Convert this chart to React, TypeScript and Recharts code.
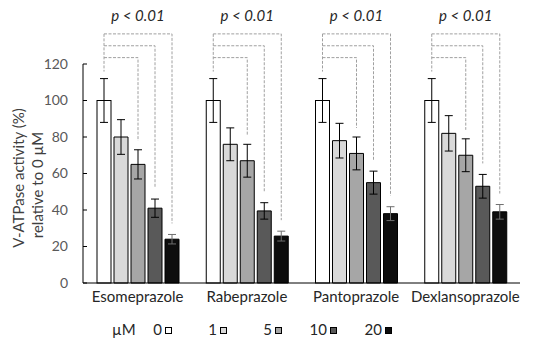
import React from 'react';
import { BarChart, Bar, XAxis, YAxis, ErrorBar, Legend, Label } from 'recharts';

const categories = ['Esomeprazole', 'Rabeprazole', 'Pantoprazole', 'Dexlansoprazole'];
const doseLabels = ['0', '1', '5', '10', '20'];
const doseUnit = 'µM';
const dose0 = [100, 100, 100, 100];
const dose0Err = [12, 12, 12, 12];
const dose1 = [80, 76, 78, 82];
const dose1Err = [9.5, 9, 9.5, 9.7];
const dose5 = [65, 67, 71, 70];
const dose5Err = [8, 9, 9, 9];
const dose10 = [41, 39.5, 55, 53];
const dose10Err = [5, 4.5, 6.3, 6.5];
const dose20 = [24, 25.7, 38, 39];
const dose20Err = [2.6, 2.7, 3.8, 4];
const yTicks = [0, 20, 40, 60, 80, 100, 120];
const pLabels = ['p < 0.01', 'p < 0.01', 'p < 0.01', 'p < 0.01'];
// bracket heights (in % units) joining 0 µM to 5, 10, 20 µM
const bracketTargets = [2, 3, 4];
const bracketLevels = [123.5, 130, 136.5];
const yLabelLines = ['V-ATPase activity (%)', 'relative to 0 µM'];

const seriesValues = [dose0, dose1, dose5, dose10, dose20];
const seriesErrors = [dose0Err, dose1Err, dose5Err, dose10Err, dose20Err];
const fills = ['#ffffff', '#d9d9d9', '#a6a6a6', '#595959', '#0d0d0d'];
const errColors = ['#000000', '#000000', '#000000', '#000000', '#6f6f6f'];

const data = categories.map((name, i) => {
  const row: any = { name, idx: i };
  seriesValues.forEach((s, k) => {
    row['v' + k] = s[i];
    row['e' + k] = seriesErrors[k][i];
  });
  return row;
});

const BAR_SIZE = 14;
const BAR_GAP = 3;
const FONT = 'Lato, "Open Sans", sans-serif';

function FirstBarShape(props: any) {
  const { x, y, width, height, payload, fill } = props;
  const base = y + height;
  const ppu = height / payload.v0;
  const py = (v: number) => base - v * ppu;
  const cx = (k: number) => x + width / 2 + k * (width + BAR_GAP);
  const errTop = (k: number) => py(payload['v' + k] + payload['e' + k]);
  const groupCenter = x + (5 * width + 4 * BAR_GAP) / 2;
  const dash = { stroke: '#a0a0a0', strokeWidth: 1, strokeDasharray: '3 1.5', fill: 'none' };
  return (
    <g>
      <rect x={x} y={y} width={width} height={height} fill={fill} stroke="#000" strokeWidth={1} />
      <path d={`M${cx(0)},${py(bracketLevels[bracketLevels.length - 1])}V${errTop(0) - 7}`} {...dash} />
      {bracketTargets.map((k, j) => (
        <path
          key={k}
          d={`M${cx(0)},${py(bracketLevels[j])}H${cx(k)}V${errTop(k) - (k === 2 ? 9 : 11)}`}
          {...dash}
        />
      ))}
      <text
        x={groupCenter}
        y={21}
        textAnchor="middle"
        fontFamily={FONT}
        fontStyle="italic"
        fontSize={15}
        fill="#262626"
      >
        {pLabels[payload.idx]}
      </text>
    </g>
  );
}

function LegendContent() {
  return (
    <svg width={543} height={30} style={{ display: 'block' }}>
      <text x={112} y={17} fontFamily={FONT} fontSize={15} fill="#262626">{doseUnit}</text>
      {doseLabels.map((d, i) => {
        const sx = 165 + 55 * i;
        return (
          <g key={d}>
            <text x={sx - 3} y={17} textAnchor="end" fontFamily={FONT} fontSize={15} fill="#262626">{d}</text>
            <rect x={sx + 0.5} y={9.5} width={6} height={6} fill={fills[i]} stroke="#000" strokeWidth={1} />
          </g>
        );
      })}
    </svg>
  );
}

function YLabel() {
  const cx = 28;
  const cy = 178;
  return (
    <text
      transform={`rotate(-90, ${cx}, ${cy})`}
      x={cx}
      y={cy}
      textAnchor="middle"
      fontFamily={FONT}
      fontSize={15}
      fill="#404040"
    >
      <tspan x={cx} y={cy - 4}>{yLabelLines[0]}</tspan>
      <tspan x={cx - 7} y={cy + 15}>{yLabelLines[1]}</tspan>
    </text>
  );
}

export default function App() {
  return (
    <div style={{ position: 'absolute', left: 0, top: 0, width: 543, height: 348, background: '#fff' }}>
      <BarChart
        width={543}
        height={348}
        data={data}
        margin={{ top: 64, right: 23, bottom: 0, left: 0 }}
        barSize={BAR_SIZE}
        barGap={BAR_GAP}
      >
        <XAxis
          dataKey="name"
          height={65}
          interval={0}
          tickLine={false}
          tickSize={4}
          tickMargin={4}
          axisLine={{ stroke: '#000', strokeWidth: 1 }}
          tick={{ fill: '#262626', fontSize: 15, fontFamily: FONT }}
        />
        <YAxis
          width={83}
          domain={[0, 120]}
          ticks={yTicks}
          interval={0}
          tickSize={-4}
          tickMargin={19}
          axisLine={{ stroke: '#000', strokeWidth: 1 }}
          tickLine={{ stroke: '#000', strokeWidth: 1 }}
          tick={{ fill: '#595959', fontSize: 14, fontFamily: FONT }}
        >
          <Label content={<YLabel />} />
        </YAxis>
        <Legend
          layout="horizontal"
          verticalAlign="middle"
          align="center"
          content={<LegendContent />}
          wrapperStyle={{ left: 0, top: 318, width: 543, height: 30 }}
        />
        {seriesValues.map((_, k) => (
          <Bar
            key={k}
            dataKey={'v' + k}
            fill={fills[k]}
            stroke="#000"
            strokeWidth={1}
            isAnimationActive={false}
            shape={k === 0 ? <FirstBarShape /> : undefined}
          >
            <ErrorBar dataKey={'e' + k} width={4} stroke={errColors[k]} strokeWidth={1} />
          </Bar>
        ))}
      </BarChart>
    </div>
  );
}
